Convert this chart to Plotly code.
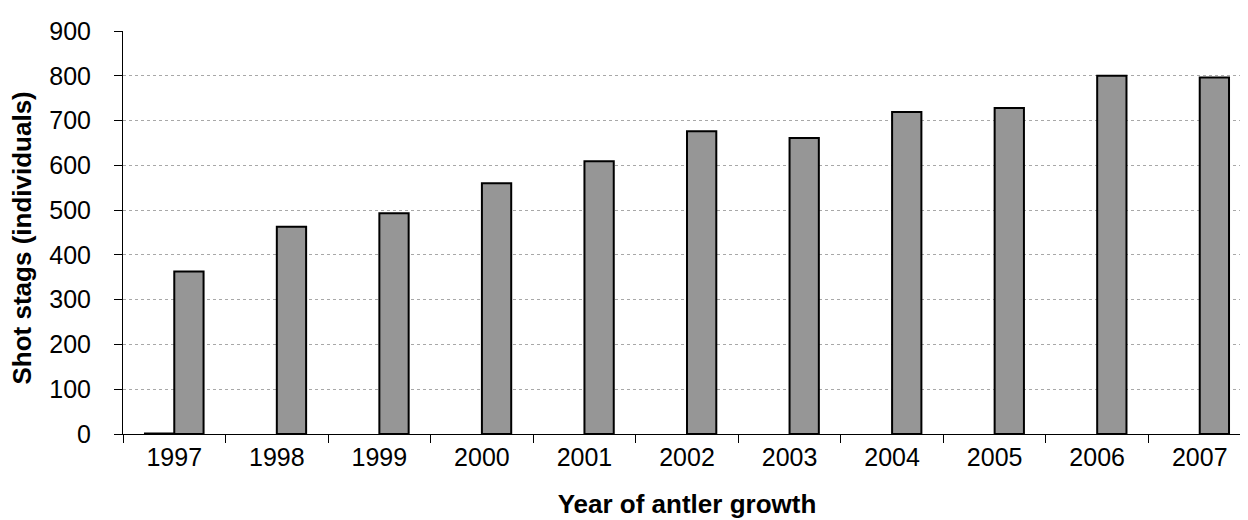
import plotly.graph_objects as go

years = ["1997", "1998", "1999", "2000", "2001", "2002", "2003", "2004", "2005", "2006", "2007"]
series_a = [1, None, None, None, None, None, None, None, None, None, None]
shot_stags = [363, 463, 493, 560, 609, 676, 661, 719, 728, 800, 796]
y_ticks = [0, 100, 200, 300, 400, 500, 600, 700, 800, 900]

fig = go.Figure()
fig.add_trace(go.Bar(x=years, y=series_a, marker=dict(color="#969696", line=dict(color="black", width=2)), showlegend=False))
fig.add_trace(go.Bar(x=years, y=shot_stags, marker=dict(color="#969696", line=dict(color="black", width=2)), showlegend=False))

font_family = "Liberation Sans, Arial, sans-serif"
fig.update_layout(
    width=1248, height=520,
    margin=dict(l=115, r=5, t=23, b=94),
    paper_bgcolor="white", plot_bgcolor="white",
    barmode="group", bargap=0.4286, bargroupgap=0,
    font=dict(family=font_family, size=25, color="black"),
    xaxis=dict(
        type="category", showline=True, linecolor="black", linewidth=1,
        ticks="outside", tickson="boundaries", ticklen=8, tickcolor="black",
        tickfont=dict(size=25), ticklabelstandoff=1,
        title=dict(text="<b>Year of antler growth</b>", font=dict(size=26), standoff=24),
        showgrid=False,
    ),
    yaxis=dict(
        range=[0, 900], tickvals=y_ticks, showline=True, linecolor="black", linewidth=1,
        ticks="outside", ticklen=8, tickcolor="black",
        tickfont=dict(size=25), ticklabelstandoff=18,
        showgrid=True, gridcolor="#a8a8a8", gridwidth=1, griddash="dot",
        zeroline=False,
    ),
    annotations=[dict(
        text="<b>Shot stags (individuals)</b>", textangle=-90,
        xref="paper", yref="paper", x=0, y=0.5, xshift=-102, yshift=-6,
        xanchor="center", yanchor="middle", showarrow=False,
        font=dict(size=26, family=font_family, color="black"),
    )],
)
fig.write_html("out.html")
